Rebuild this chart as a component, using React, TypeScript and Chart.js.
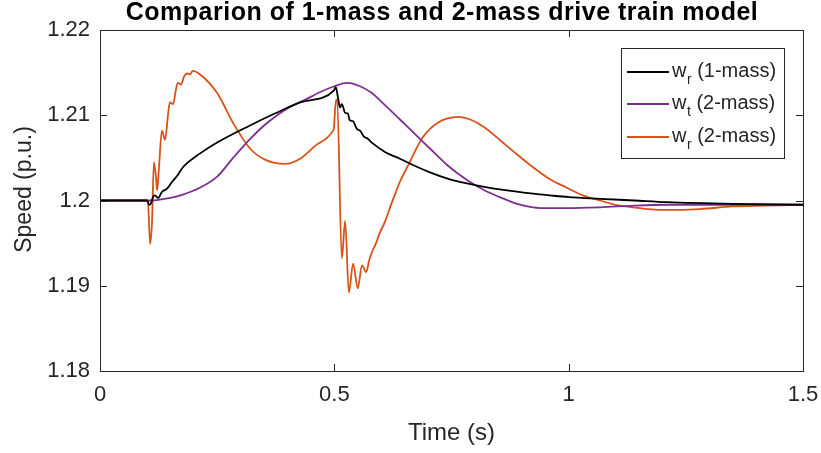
import React, { useEffect, useRef } from "react";
import { Chart, registerables } from "chart.js";

Chart.register(...registerables);

const chartTitle = "Comparion of 1-mass and 2-mass drive train model";
const xAxisTitle = "Time (s)";
const yAxisTitle = "Speed (p.u.)";
const xTicks = [0, 0.5, 1, 1.5];
const yTicks = [1.18, 1.19, 1.2, 1.21, 1.22];

const legendMain = ["w", "w", "w"];
const legendSub = ["r", "t", "r"];
const legendRest = [" (1-mass)", " (2-mass)", " (2-mass)"];
const seriesColors = ["#000000", "#7E2F8E", "#D95319"];

// w_r (1-mass)
const timeR1 = [0, 0.1, 0.105, 0.109, 0.113, 0.117, 0.124, 0.132, 0.143, 0.154, 0.166, 0.177, 0.213, 0.25, 0.32, 0.373, 0.427, 0.499, 0.503, 0.508, 0.512, 0.516, 0.523, 0.529, 0.533, 0.54, 0.548, 0.555, 0.563, 0.57, 0.582, 0.608, 0.64, 0.67, 0.704, 0.74, 0.783, 0.82, 0.853, 0.924, 0.96, 1.0, 1.067, 1.14, 1.21, 1.35, 1.5];
const speedR1 = [1.2, 1.2, 1.1995, 1.1997, 1.2004, 1.2006, 1.2003, 1.201, 1.2014, 1.2022, 1.203, 1.2039, 1.2055, 1.2068, 1.2088, 1.2102, 1.2115, 1.2129, 1.2133, 1.212, 1.2109, 1.2113, 1.2103, 1.2102, 1.2094, 1.2093, 1.2084, 1.2082, 1.2075, 1.2073, 1.2067, 1.2057, 1.2049, 1.2041, 1.2033, 1.2026, 1.202, 1.2016, 1.2013, 1.2008, 1.2006, 1.2004, 1.2002, 1.2, 1.1998, 1.1996, 1.1995];

// w_t (2-mass)
const timeT2 = [0, 0.11, 0.128, 0.15, 0.177, 0.213, 0.25, 0.284, 0.32, 0.35, 0.373, 0.4, 0.437, 0.469, 0.5, 0.527, 0.555, 0.58, 0.604, 0.64, 0.67, 0.704, 0.74, 0.783, 0.82, 0.853, 0.89, 0.924, 0.96, 0.996, 1.067, 1.14, 1.21, 1.35, 1.5];
const speedT2 = [1.2, 1.2, 1.2001, 1.2003, 1.2007, 1.2015, 1.2028, 1.205, 1.2072, 1.2088, 1.2098, 1.2108, 1.2118, 1.2127, 1.2134, 1.2138, 1.2134, 1.2126, 1.2114, 1.2095, 1.2079, 1.2061, 1.2042, 1.2024, 1.2012, 1.2004, 1.1996, 1.1992, 1.1991, 1.1991, 1.1992, 1.1994, 1.1995, 1.1995, 1.1995];

// w_r (2-mass)
const timeR2 = [0, 0.1, 0.102, 0.107, 0.111, 0.115, 0.119, 0.122, 0.126, 0.132, 0.139, 0.145, 0.149, 0.156, 0.162, 0.166, 0.173, 0.179, 0.186, 0.192, 0.198, 0.213, 0.25, 0.284, 0.32, 0.352, 0.395, 0.427, 0.459, 0.497, 0.499, 0.5035, 0.506, 0.516, 0.523, 0.531, 0.54, 0.55, 0.559, 0.568, 0.574, 0.58, 0.589, 0.597, 0.608, 0.619, 0.63, 0.64, 0.661, 0.676, 0.69, 0.704, 0.72, 0.74, 0.766, 0.79, 0.82, 0.853, 0.89, 0.924, 0.96, 0.996, 1.03, 1.067, 1.1, 1.137, 1.17, 1.21, 1.28, 1.35, 1.42, 1.5];
const speedR2 = [1.2, 1.2, 1.2, 1.1949, 1.1975, 1.2045, 1.203, 1.2012, 1.204, 1.2082, 1.2071, 1.21, 1.2115, 1.2113, 1.213, 1.2138, 1.2136, 1.2145, 1.2149, 1.2148, 1.2152, 1.2148, 1.2126, 1.2091, 1.2061, 1.2048, 1.2043, 1.2049, 1.2064, 1.2082, 1.2085, 1.2118, 1.2118, 1.1932, 1.1976, 1.1892, 1.1926, 1.1897, 1.1924, 1.1916, 1.1929, 1.1939, 1.195, 1.1962, 1.1975, 1.1992, 1.2008, 1.2022, 1.2045, 1.2062, 1.2075, 1.2084, 1.2091, 1.2096, 1.2098, 1.2095, 1.2086, 1.2071, 1.2054, 1.2039, 1.2025, 1.2015, 1.2006, 1.2, 1.1995, 1.1992, 1.199, 1.1989, 1.199, 1.1993, 1.1994, 1.1995];

const toPoints = (t: number[], v: number[]) => t.map((x, i) => ({ x, y: v[i] }));

const AXIS_COLOR = "#262626";
const FONT = "'Liberation Sans', Arial, Helvetica, sans-serif";

const decorPlugin = {
  id: "decor",
  afterDraw(chart: any) {
    const { ctx, chartArea } = chart;
    const { left, right, top, bottom } = chartArea;
    const xs = chart.scales.x;
    const ys = chart.scales.y;
    ctx.save();
    ctx.strokeStyle = AXIS_COLOR;
    ctx.lineWidth = 1;
    ctx.strokeRect(Math.round(left) + 0.5, Math.round(top) + 0.5, Math.round(right - left), Math.round(bottom - top));
    const tl = 7;
    ctx.beginPath();
    xTicks.forEach((t) => {
      const px = Math.round(xs.getPixelForValue(t)) + 0.5;
      ctx.moveTo(px, bottom);
      ctx.lineTo(px, bottom - tl);
      ctx.moveTo(px, top);
      ctx.lineTo(px, top + tl);
    });
    yTicks.forEach((v) => {
      const py = Math.round(ys.getPixelForValue(v)) + 0.5;
      ctx.moveTo(left, py);
      ctx.lineTo(left + tl, py);
      ctx.moveTo(right, py);
      ctx.lineTo(right - tl, py);
    });
    ctx.stroke();

    ctx.fillStyle = "#000";
    ctx.font = `bold 25px ${FONT}`;
    ctx.textAlign = "center";
    ctx.textBaseline = "alphabetic";
    try { (ctx as any).letterSpacing = "0.5px"; } catch (e) {}
    ctx.fillText(chartTitle, 442, 20);
    try { (ctx as any).letterSpacing = "0px"; } catch (e) {}

    ctx.fillStyle = AXIS_COLOR;
    ctx.font = `24px ${FONT}`;
    ctx.textBaseline = "middle";
    ctx.fillText(xAxisTitle, (left + right) / 2, 433);
    ctx.font = `23px ${FONT}`;
    ctx.save();
    ctx.translate(25, (top + bottom) / 2 - 11);
    ctx.rotate(-Math.PI / 2);
    ctx.fillText(yAxisTitle, 0, 0);
    ctx.restore();

    const lx = 621, ly = 48, lw = 163, lh = 110;
    ctx.fillStyle = "#fff";
    ctx.fillRect(lx, ly, lw, lh);
    ctx.strokeStyle = AXIS_COLOR;
    ctx.lineWidth = 1;
    ctx.strokeRect(lx + 0.5, ly + 0.5, lw, lh);
    const rows = [72, 104, 137];
    rows.forEach((ry, i) => {
      ctx.strokeStyle = seriesColors[i];
      ctx.lineWidth = 2;
      ctx.beginPath();
      ctx.moveTo(627, ry);
      ctx.lineTo(669, ry);
      ctx.stroke();
      ctx.fillStyle = AXIS_COLOR;
      ctx.textAlign = "left";
      ctx.textBaseline = "alphabetic";
      ctx.font = `20px ${FONT}`;
      let x = 672;
      const base = ry + 5;
      ctx.fillText(legendMain[i], x, base);
      x += ctx.measureText(legendMain[i]).width;
      ctx.font = `14px ${FONT}`;
      ctx.fillText(legendSub[i], x + 0.5, base + 7);
      x += ctx.measureText(legendSub[i]).width + 0.5;
      ctx.font = `20px ${FONT}`;
      ctx.fillText(legendRest[i], x, base);
    });
    ctx.restore();
  },
};

export default function App() {
  const canvasRef = useRef<HTMLCanvasElement | null>(null);

  useEffect(() => {
    if (!canvasRef.current) return;
    const chart = new Chart(canvasRef.current, {
      type: "line",
      data: {
        datasets: [
          { label: "w_r (1-mass)", data: toPoints(timeR1, speedR1), borderColor: seriesColors[0], backgroundColor: seriesColors[0], borderWidth: 1.8, pointRadius: 0, cubicInterpolationMode: "monotone" },
          { label: "w_t (2-mass)", data: toPoints(timeT2, speedT2), borderColor: seriesColors[1], backgroundColor: seriesColors[1], borderWidth: 1.8, pointRadius: 0, cubicInterpolationMode: "monotone" },
          { label: "w_r (2-mass)", data: toPoints(timeR2, speedR2), borderColor: seriesColors[2], backgroundColor: seriesColors[2], borderWidth: 1.8, pointRadius: 0, cubicInterpolationMode: "monotone" },
        ] as any,
      },
      options: {
        animation: false,
        responsive: false,
        devicePixelRatio: 1,
        layout: { padding: { top: 30, right: 18, left: 0, bottom: 0 } },
        plugins: { legend: { display: false }, title: { display: false }, tooltip: { enabled: false } },
        scales: {
          x: {
            type: "linear",
            min: 0,
            max: 1.5,
            afterFit: (s: any) => { s.height = 82; s.paddingLeft = 0; s.paddingRight = 0; },
            afterBuildTicks: (s: any) => { s.ticks = xTicks.map((v) => ({ value: v })); },
            grid: { display: false, drawTicks: false },
            border: { display: false },
            ticks: {
              padding: 11,
              color: AXIS_COLOR,
              font: { family: FONT, size: 22 },
              maxRotation: 0,
              callback: (v: any) => String(Math.round(Number(v) * 10) / 10),
            },
          },
          y: {
            type: "linear",
            min: 1.18,
            max: 1.22,
            afterFit: (s: any) => { s.width = 100; s.paddingTop = 0; s.paddingBottom = 0; },
            afterBuildTicks: (s: any) => { s.ticks = yTicks.map((v) => ({ value: v })); },
            grid: { display: false, drawTicks: false },
            border: { display: false },
            ticks: {
              padding: 10,
              color: AXIS_COLOR,
              font: { family: FONT, size: 22 },
              callback: (v: any) => String(Math.round(Number(v) * 100) / 100),
            },
          },
        },
      } as any,
      plugins: [decorPlugin],
    });
    return () => chart.destroy();
  }, []);

  return (
    <div style={{ position: "absolute", left: 0, top: 0, width: 821, height: 453, background: "#fff" }}>
      <canvas ref={canvasRef} width={821} height={453} style={{ width: 821, height: 453, display: "block" }} />
    </div>
  );
}
